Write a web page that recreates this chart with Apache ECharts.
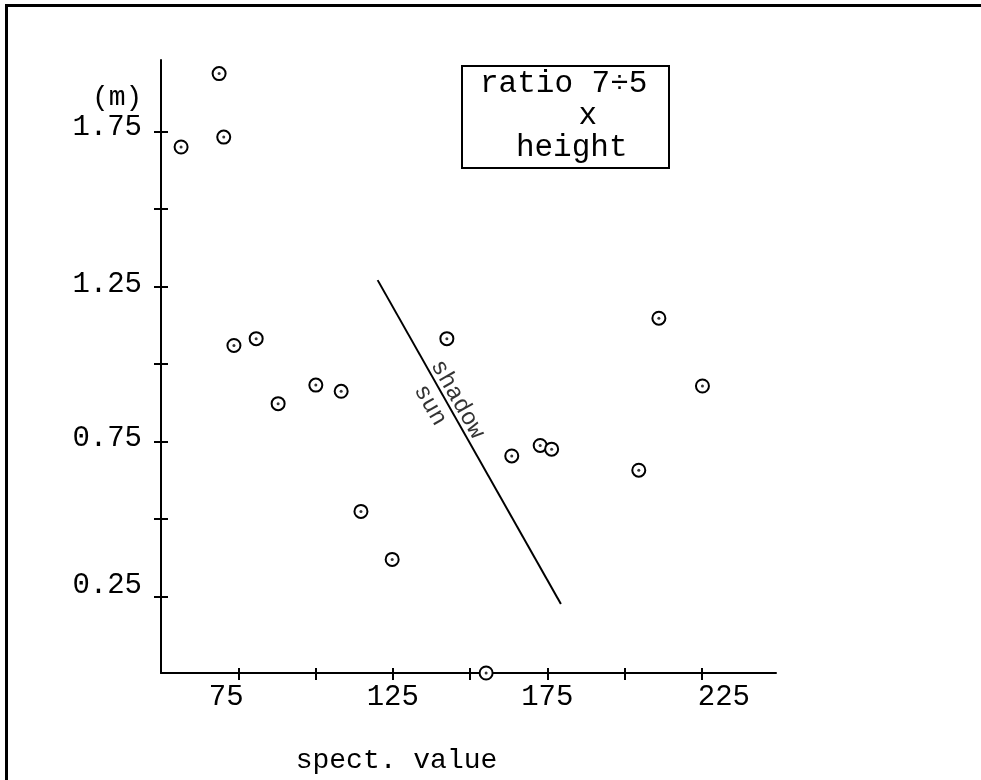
<!DOCTYPE html>
<html><head><meta charset="utf-8">
<script src="https://cdn.jsdelivr.net/npm/echarts@6/dist/echarts.min.js"></script>
<style>
html,body{margin:0;padding:0;background:#fff;overflow:hidden}
#c{width:981px;height:780px;position:absolute;left:0;top:0}
#frame{position:absolute;left:5px;top:4px;width:1000px;height:800px;border-top:3px solid #000;border-left:3px solid #000;pointer-events:none}
</style></head><body>
<div id="c"></div><div id="frame"></div>
<script>
// data
const spectValue = [56.5, 68.8, 70.3, 73.6, 80.8, 87.9, 100.1, 108.3, 114.7, 124.8, 142.5, 155.2, 163.5, 172.7, 176.4, 204.6, 211.1, 225.2];
const heightM    = [1.699, 1.936, 1.731, 1.058, 1.080, 0.870, 0.930, 0.910, 0.522, 0.367, 1.080, 0.0, 0.701, 0.735, 0.723, 0.655, 1.146, 0.927];
const sunShadowX = [120.1, 179.4];
const sunShadowY = [1.269, 0.223];
const sideLabels = ['shadow', 'sun'];
const sideLabelX = [146.0, 137.1];
const sideLabelY = [0.884, 0.865];
const xTickValues  = [75, 100, 125, 150, 175, 200, 225];
const xLabelValues = [75, 125, 175, 225];
const yTickValues  = [0.25, 0.5, 0.75, 1.0, 1.25, 1.5, 1.75];
const yLabelValues = [0.25, 0.75, 1.25, 1.75];
const xRange = [50, 249];
const yRange = [0, 1.98];

const FONT = "'Liberation Mono', 'DejaVu Sans Mono', monospace";
const FS = 29;
const chart = echarts.init(document.getElementById('c'), null, {renderer: 'canvas'});

const pts = spectValue.map((x, i) => [x, heightM[i]]);
const axisLineStyle = {color: '#000', width: 2};
const gridBox = {left: 161, top: 60, width: 615, height: 614};
const tickStyle = {color: '#000', width: 2};

// grid 0: axis lines, labels, data. grid 1: crossing ticks only.
const xMain = {
  type: 'value', gridIndex: 0, min: xRange[0], max: xRange[1], position: 'bottom',
  splitLine: {show: false},
  axisLine: {show: true, onZero: false, lineStyle: axisLineStyle},
  axisTick: {show: false},
  axisLabel: {
    show: true, customValues: xLabelValues, margin: 10, color: '#000',
    fontFamily: FONT, fontSize: FS,
    formatter: v => v === 75 ? '{l|75}' : (v === 225 ? '{r|225}' : '{n|' + v + '}'),
    rich: {
      n: {fontFamily: FONT, fontSize: FS, color: '#000'},
      l: {fontFamily: FONT, fontSize: FS, color: '#000', padding: [0, 24, 0, 0]},
      r: {fontFamily: FONT, fontSize: FS, color: '#000', padding: [0, 0, 0, 44]}
    }
  },
  name: 'spect. value', nameLocation: 'middle', nameGap: 74,
  nameTextStyle: {fontFamily: FONT, fontSize: 28, color: '#000', padding: [0, 144, 0, 0]}
};
const xTicks = {
  type: 'value', gridIndex: 1, min: xRange[0], max: xRange[1], position: 'bottom', offset: -6,
  splitLine: {show: false}, axisLine: {show: false}, axisLabel: {show: false},
  axisTick: {show: true, inside: false, length: 12, customValues: xTickValues, lineStyle: tickStyle}
};
const yMain = {
  type: 'value', gridIndex: 0, min: yRange[0], max: yRange[1], position: 'left',
  splitLine: {show: false},
  axisLine: {show: true, onZero: false, lineStyle: axisLineStyle},
  axisTick: {show: false},
  axisLabel: {
    show: true, customValues: yLabelValues, margin: 19, color: '#000',
    fontFamily: FONT, fontSize: FS,
    formatter: v => (v < 0.5 ? '{b|' : (v > 1.5 ? '{a|' : '{c|')) + v.toFixed(2) + '}',
    rich: {
      a: {fontFamily: FONT, fontSize: FS, color: '#000', padding: [0, 0, 8, 0]},
      b: {fontFamily: FONT, fontSize: FS, color: '#000', padding: [0, 0, 20, 0]},
      c: {fontFamily: FONT, fontSize: FS, color: '#000', padding: [0, 0, 4, 0]}
    }
  }
};
const yTicks = {
  type: 'value', gridIndex: 1, min: yRange[0], max: yRange[1], position: 'left', offset: -7,
  splitLine: {show: false}, axisLine: {show: false}, axisLabel: {show: false},
  axisTick: {show: true, inside: false, length: 14, customValues: yTickValues, lineStyle: tickStyle}
};

chart.setOption({
  animation: false,
  backgroundColor: '#fff',
  title: [
    {text: '(m)', left: 92, top: 84, padding: 0,
     textStyle: {fontFamily: FONT, fontSize: 28, fontWeight: 'normal', color: '#000'}},
    {text: '{a|ratio 7÷5}\n{b|x}\n{c|height}', left: 462, top: 66,
     borderColor: '#000', borderWidth: 2, padding: [2, 22, 4, 18], backgroundColor: '#fff',
     textStyle: {fontFamily: FONT, fontSize: 31, fontWeight: 'normal', color: '#000', lineHeight: 32,
       rich: {
         a: {fontFamily: FONT, fontSize: 31, color: '#000', lineHeight: 32},
         b: {fontFamily: FONT, fontSize: 31, color: '#000', lineHeight: 32, align: 'center', padding: [0, 0, 0, 48]},
         c: {fontFamily: FONT, fontSize: 31, color: '#000', lineHeight: 32, align: 'center', padding: [0, 0, 0, 16]}
       }}}
  ],
  grid: [Object.assign({}, gridBox), Object.assign({}, gridBox)],
  xAxis: [xMain, xTicks],
  yAxis: [yMain, yTicks],
  series: [
    {type: 'line', xAxisIndex: 0, yAxisIndex: 0, data: sunShadowX.map((x, i) => [x, sunShadowY[i]]),
     showSymbol: false, symbol: 'none', lineStyle: {color: '#000', width: 2}, z: 2, silent: true},
    {type: 'scatter', xAxisIndex: 0, yAxisIndex: 0, data: pts, symbol: 'circle', symbolSize: 13,
     itemStyle: {color: '#fff', borderColor: '#000', borderWidth: 2, opacity: 1}, z: 3},
    {type: 'scatter', xAxisIndex: 0, yAxisIndex: 0, data: pts, symbol: 'circle', symbolSize: 3,
     itemStyle: {color: '#000'}, z: 4},
    {type: 'scatter', xAxisIndex: 0, yAxisIndex: 0,
     data: sideLabels.map((t, i) => [sideLabelX[i], sideLabelY[i], t]),
     symbolSize: 0, z: 5,
     label: {show: true, position: 'inside', rotate: -60.5, formatter: p => p.value[2],
       fontFamily: FONT, fontSize: 24, color: '#000'}}
  ]
});
</script>
</body></html>
